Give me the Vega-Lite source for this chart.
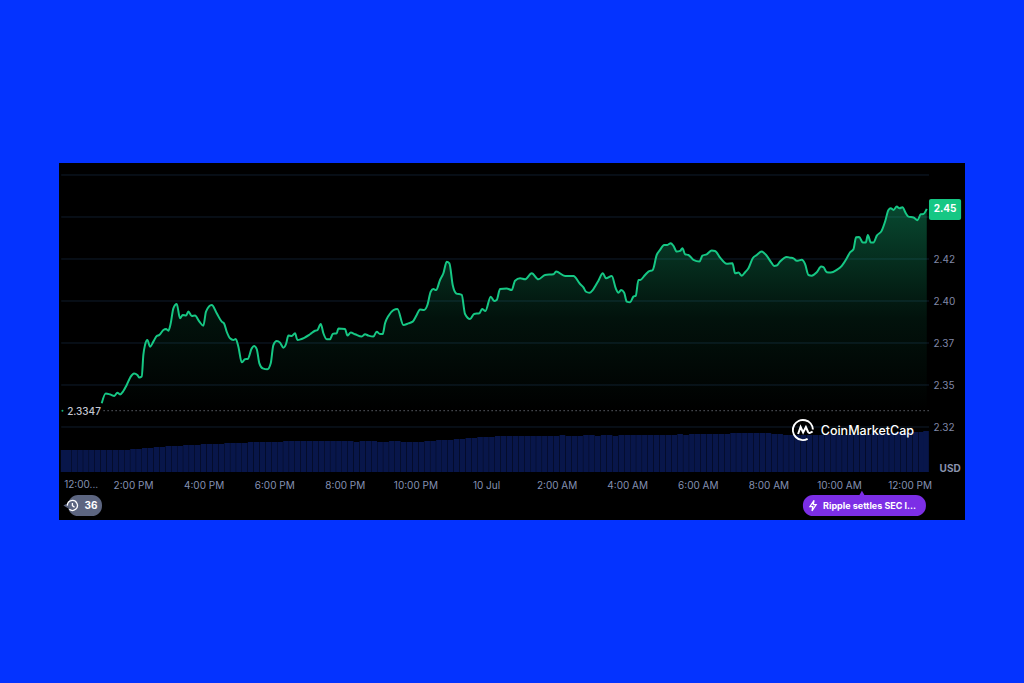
{"$schema":"https://vega.github.io/schema/vega-lite/v6.json","width":906,"height":357,"autosize":{"type":"none"},"padding":{"left":59,"right":59,"top":163,"bottom":163},"background":"#0433ff","config":{"view":{"fill":"#000000","stroke":null},"font":"Inter","scale":{"continuousPadding":0}},
"datasets":{"price":[{"minute":66.8,"price":2.3391},{"minute":73.6,"price":2.345},{"minute":80.9,"price":2.3444},{"minute":88.3,"price":2.3435},{"minute":93.4,"price":2.3454},{"minute":97.9,"price":2.3444},{"minute":103.6,"price":2.3464},{"minute":109.3,"price":2.35},{"minute":116.1,"price":2.355},{"minute":121.7,"price":2.3569},{"minute":127.4,"price":2.356},{"minute":130.8,"price":2.3544},{"minute":134.8,"price":2.355},{"minute":137.6,"price":2.3679},{"minute":140.4,"price":2.3738},{"minute":144.4,"price":2.3768},{"minute":148.9,"price":2.3728},{"minute":154.6,"price":2.3758},{"minute":160.3,"price":2.3792},{"minute":164.8,"price":2.3798},{"minute":171.6,"price":2.3827},{"minute":176.1,"price":2.3833},{"minute":180.1,"price":2.3823},{"minute":184.1,"price":2.3867},{"minute":188.6,"price":2.3956},{"minute":194.3,"price":2.3982},{"minute":199.9,"price":2.3897},{"minute":204.5,"price":2.3917},{"minute":210.1,"price":2.3913},{"minute":214.1,"price":2.3937},{"minute":219.8,"price":2.3911},{"minute":225.4,"price":2.3913},{"minute":232.8,"price":2.3877},{"minute":239.6,"price":2.3853},{"minute":244.1,"price":2.3937},{"minute":253.8,"price":2.3976},{"minute":262.3,"price":2.3927},{"minute":270.8,"price":2.3877},{"minute":274.7,"price":2.3867},{"minute":279.3,"price":2.3817},{"minute":284.9,"price":2.3778},{"minute":290.6,"price":2.3768},{"minute":294.6,"price":2.3774},{"minute":299.1,"price":2.3728},{"minute":304.8,"price":2.3635},{"minute":310.4,"price":2.3653},{"minute":315,"price":2.3655},{"minute":321.8,"price":2.3718},{"minute":325.7,"price":2.3732},{"minute":330.3,"price":2.3714},{"minute":334.8,"price":2.3629},{"minute":340.5,"price":2.3599},{"minute":348.4,"price":2.3593},{"minute":354.1,"price":2.3629},{"minute":358.6,"price":2.3738},{"minute":364.3,"price":2.3762},{"minute":369.9,"price":2.3752},{"minute":375.6,"price":2.3722},{"minute":380.1,"price":2.3744},{"minute":384.1,"price":2.3794},{"minute":389.8,"price":2.3792},{"minute":395.4,"price":2.3808},{"minute":399.4,"price":2.3768},{"minute":405.1,"price":2.3772},{"minute":420.9,"price":2.3802},{"minute":429.4,"price":2.3823},{"minute":433.4,"price":2.3827},{"minute":439.1,"price":2.3863},{"minute":443.6,"price":2.3808},{"minute":449.3,"price":2.3772},{"minute":454.9,"price":2.3772},{"minute":459.5,"price":2.3804},{"minute":466.3,"price":2.3808},{"minute":469.1,"price":2.3837},{"minute":480.4,"price":2.3833},{"minute":484.4,"price":2.3794},{"minute":490.1,"price":2.3812},{"minute":497.4,"price":2.3802},{"minute":508.7,"price":2.3788},{"minute":514.4,"price":2.3802},{"minute":520.1,"price":2.3794},{"minute":528.6,"price":2.3788},{"minute":534.2,"price":2.3817},{"minute":539.9,"price":2.3803},{"minute":544.4,"price":2.3803},{"minute":548.4,"price":2.3867},{"minute":554.1,"price":2.3911},{"minute":562.6,"price":2.3946},{"minute":569.4,"price":2.3952},{"minute":579.6,"price":2.3857},{"minute":588.1,"price":2.3867},{"minute":595.4,"price":2.3877},{"minute":602.2,"price":2.3917},{"minute":607.9,"price":2.395},{"minute":614.7,"price":2.3946},{"minute":620.4,"price":2.3976},{"minute":626,"price":2.4055},{"minute":630.6,"price":2.4071},{"minute":635.1,"price":2.4065},{"minute":641.9,"price":2.4125},{"minute":647.6,"price":2.4165},{"minute":653.2,"price":2.4234},{"minute":657.8,"price":2.4224},{"minute":663.4,"price":2.4095},{"minute":669.1,"price":2.4046},{"minute":678.7,"price":2.4036},{"minute":684.4,"price":2.3923},{"minute":692.9,"price":2.3893},{"minute":699.7,"price":2.3923},{"minute":708.8,"price":2.3927},{"minute":713.3,"price":2.3952},{"minute":719,"price":2.394},{"minute":728,"price":2.4026},{"minute":733.7,"price":2.4},{"minute":738.2,"price":2.4006},{"minute":743.9,"price":2.4071},{"minute":755.2,"price":2.4075},{"minute":763.7,"price":2.4065},{"minute":769.4,"price":2.4121},{"minute":777.9,"price":2.4135},{"minute":786.4,"price":2.4129},{"minute":797.7,"price":2.4165},{"minute":809.1,"price":2.4129},{"minute":820.4,"price":2.4155},{"minute":834.6,"price":2.4159},{"minute":839.1,"price":2.4175},{"minute":854.4,"price":2.4149},{"minute":868.6,"price":2.4149},{"minute":879.9,"price":2.4101},{"minute":885.6,"price":2.4081},{"minute":890.1,"price":2.4055},{"minute":895.8,"price":2.4049},{"minute":901.4,"price":2.4065},{"minute":911.1,"price":2.4121},{"minute":918.5,"price":2.4165},{"minute":924.1,"price":2.4135},{"minute":933.8,"price":2.4149},{"minute":940.6,"price":2.4075},{"minute":945.1,"price":2.4049},{"minute":949.6,"price":2.4065},{"minute":954.7,"price":2.4051},{"minute":959.3,"price":2.3996},{"minute":964.9,"price":2.3992},{"minute":970.6,"price":2.4026},{"minute":974.6,"price":2.4032},{"minute":979.1,"price":2.4125},{"minute":981.9,"price":2.4125},{"minute":990.4,"price":2.4155},{"minute":996.1,"price":2.4175},{"minute":1003.4,"price":2.4185},{"minute":1010.2,"price":2.4274},{"minute":1015.9,"price":2.4304},{"minute":1022.7,"price":2.4334},{"minute":1028.4,"price":2.4334},{"minute":1034,"price":2.4344},{"minute":1038.6,"price":2.4328},{"minute":1044.2,"price":2.4294},{"minute":1049.9,"price":2.4298},{"minute":1053.9,"price":2.4314},{"minute":1058.4,"price":2.4278},{"minute":1064.1,"price":2.4274},{"minute":1072.6,"price":2.4245},{"minute":1082.8,"price":2.4235},{"minute":1087.9,"price":2.427},{"minute":1095.2,"price":2.4278},{"minute":1103.7,"price":2.43},{"minute":1109.4,"price":2.4298},{"minute":1117.9,"price":2.4258},{"minute":1129.2,"price":2.4221},{"minute":1138.9,"price":2.4225},{"minute":1143.4,"price":2.4165},{"minute":1149.1,"price":2.4169},{"minute":1154.7,"price":2.4151},{"minute":1160.4,"price":2.4171},{"minute":1166.1,"price":2.4195},{"minute":1173.4,"price":2.4254},{"minute":1180.2,"price":2.4274},{"minute":1188.7,"price":2.4294},{"minute":1196.1,"price":2.4274},{"minute":1205.7,"price":2.4225},{"minute":1209.7,"price":2.4209},{"minute":1214.2,"price":2.4211},{"minute":1219.9,"price":2.4235},{"minute":1231.2,"price":2.4262},{"minute":1236.9,"price":2.4258},{"minute":1242.6,"price":2.4254},{"minute":1248.2,"price":2.4239},{"minute":1256.7,"price":2.4245},{"minute":1262.4,"price":2.4219},{"minute":1268.1,"price":2.4155},{"minute":1273.7,"price":2.4151},{"minute":1282.2,"price":2.4171},{"minute":1289.6,"price":2.4205},{"minute":1293.6,"price":2.4201},{"minute":1299.3,"price":2.4171},{"minute":1306.1,"price":2.4169},{"minute":1316.3,"price":2.4185},{"minute":1324.8,"price":2.4209},{"minute":1333.2,"price":2.4254},{"minute":1338.9,"price":2.429},{"minute":1344.6,"price":2.4308},{"minute":1349.1,"price":2.4379},{"minute":1354.2,"price":2.4381},{"minute":1360.5,"price":2.4348},{"minute":1365.6,"price":2.4348},{"minute":1369,"price":2.4393},{"minute":1374.1,"price":2.4348},{"minute":1378.6,"price":2.4348},{"minute":1384.3,"price":2.4389},{"minute":1392.7,"price":2.4419},{"minute":1398.4,"price":2.4473},{"minute":1404.1,"price":2.4542},{"minute":1408,"price":2.4552},{"minute":1412.6,"price":2.4542},{"minute":1418.2,"price":2.4562},{"minute":1422.8,"price":2.4552},{"minute":1427.9,"price":2.4558},{"minute":1433.6,"price":2.4522},{"minute":1438.1,"price":2.4502},{"minute":1446.6,"price":2.4497},{"minute":1453.4,"price":2.4481},{"minute":1459,"price":2.4516},{"minute":1463.6,"price":2.4518},{"minute":1469.2,"price":2.4548}],
"volume":[{"minute":2,"vol":2.2},{"minute":10,"vol":2.2},{"minute":20,"vol":2.2},{"minute":30,"vol":2.2},{"minute":40,"vol":2.2},{"minute":50,"vol":2.2},{"minute":60,"vol":2.2},{"minute":70,"vol":2.2},{"minute":80,"vol":2.2},{"minute":90,"vol":2.2},{"minute":100,"vol":2.2},{"minute":110,"vol":2.2},{"minute":120,"vol":2.3},{"minute":130,"vol":2.3},{"minute":140,"vol":2.4},{"minute":150,"vol":2.4},{"minute":160,"vol":2.5},{"minute":170,"vol":2.5},{"minute":180,"vol":2.6},{"minute":190,"vol":2.6},{"minute":200,"vol":2.6},{"minute":210,"vol":2.7},{"minute":220,"vol":2.7},{"minute":230,"vol":2.7},{"minute":240,"vol":2.8},{"minute":250,"vol":2.8},{"minute":260,"vol":2.8},{"minute":270,"vol":2.8},{"minute":280,"vol":2.9},{"minute":290,"vol":2.9},{"minute":300,"vol":2.9},{"minute":310,"vol":2.9},{"minute":320,"vol":3.0},{"minute":330,"vol":3.0},{"minute":340,"vol":3.0},{"minute":350,"vol":3.0},{"minute":360,"vol":3.0},{"minute":370,"vol":3.0},{"minute":380,"vol":3.1},{"minute":390,"vol":3.1},{"minute":400,"vol":3.1},{"minute":410,"vol":3.1},{"minute":420,"vol":3.1},{"minute":430,"vol":3.1},{"minute":440,"vol":3.1},{"minute":450,"vol":3.1},{"minute":460,"vol":3.1},{"minute":470,"vol":3.1},{"minute":480,"vol":3.1},{"minute":490,"vol":3.1},{"minute":500,"vol":3.0},{"minute":510,"vol":3.1},{"minute":520,"vol":3.1},{"minute":530,"vol":3.1},{"minute":540,"vol":3.0},{"minute":550,"vol":3.0},{"minute":560,"vol":3.1},{"minute":570,"vol":3.1},{"minute":580,"vol":3.0},{"minute":590,"vol":3.0},{"minute":600,"vol":3.0},{"minute":610,"vol":3.0},{"minute":620,"vol":3.1},{"minute":630,"vol":3.1},{"minute":640,"vol":3.2},{"minute":650,"vol":3.2},{"minute":660,"vol":3.2},{"minute":670,"vol":3.3},{"minute":680,"vol":3.3},{"minute":690,"vol":3.4},{"minute":700,"vol":3.4},{"minute":710,"vol":3.5},{"minute":720,"vol":3.5},{"minute":730,"vol":3.5},{"minute":740,"vol":3.6},{"minute":750,"vol":3.6},{"minute":760,"vol":3.6},{"minute":770,"vol":3.6},{"minute":780,"vol":3.6},{"minute":790,"vol":3.6},{"minute":800,"vol":3.6},{"minute":810,"vol":3.6},{"minute":820,"vol":3.6},{"minute":830,"vol":3.6},{"minute":840,"vol":3.6},{"minute":850,"vol":3.7},{"minute":860,"vol":3.6},{"minute":870,"vol":3.6},{"minute":880,"vol":3.6},{"minute":890,"vol":3.7},{"minute":900,"vol":3.7},{"minute":910,"vol":3.6},{"minute":920,"vol":3.7},{"minute":930,"vol":3.7},{"minute":940,"vol":3.6},{"minute":950,"vol":3.7},{"minute":960,"vol":3.7},{"minute":970,"vol":3.7},{"minute":980,"vol":3.7},{"minute":990,"vol":3.7},{"minute":1000,"vol":3.7},{"minute":1010,"vol":3.7},{"minute":1020,"vol":3.7},{"minute":1030,"vol":3.7},{"minute":1040,"vol":3.7},{"minute":1050,"vol":3.8},{"minute":1060,"vol":3.7},{"minute":1070,"vol":3.8},{"minute":1080,"vol":3.8},{"minute":1090,"vol":3.8},{"minute":1100,"vol":3.8},{"minute":1110,"vol":3.8},{"minute":1120,"vol":3.8},{"minute":1130,"vol":3.8},{"minute":1140,"vol":3.9},{"minute":1150,"vol":3.9},{"minute":1160,"vol":3.9},{"minute":1170,"vol":3.9},{"minute":1180,"vol":3.9},{"minute":1190,"vol":3.9},{"minute":1200,"vol":3.9},{"minute":1210,"vol":3.8},{"minute":1220,"vol":3.8},{"minute":1230,"vol":3.7},{"minute":1240,"vol":3.7},{"minute":1250,"vol":3.7},{"minute":1260,"vol":3.7},{"minute":1270,"vol":3.7},{"minute":1280,"vol":3.7},{"minute":1290,"vol":3.7},{"minute":1300,"vol":3.8},{"minute":1310,"vol":3.8},{"minute":1320,"vol":3.8},{"minute":1330,"vol":3.7},{"minute":1340,"vol":3.8},{"minute":1350,"vol":3.8},{"minute":1360,"vol":3.8},{"minute":1370,"vol":3.8},{"minute":1380,"vol":3.9},{"minute":1390,"vol":3.9},{"minute":1400,"vol":3.9},{"minute":1410,"vol":3.9},{"minute":1420,"vol":4.0},{"minute":1430,"vol":3.9},{"minute":1440,"vol":4.0},{"minute":1450,"vol":4.0},{"minute":1460,"vol":4.0},{"minute":1468,"vol":4.1}],
"grid":[{"level":2.35},{"level":2.375},{"level":2.4},{"level":2.425},{"level":2.45},{"level":2.475},{"level":2.325}]},
"layer":[
{"data":{"name":"volume"},"mark":{"type":"bar","size":5.6,"color":"#08164a"},"encoding":{"x":{"field":"minute","type":"quantitative","title":null,"scale":{"domain":[-5.8,1534.2],"nice":false,"zero":false,"padding":0},"axis":{"values":[120,240,360,480,600,720,840,960,1080,1200,1320,1440],"labelExpr":"{'120':'2:00 PM','240':'4:00 PM','360':'6:00 PM','480':'8:00 PM','600':'10:00 PM','720':'10 Jul','840':'2:00 AM','960':'4:00 AM','1080':'6:00 AM','1200':'8:00 AM','1320':'10:00 AM','1440':'12:00 PM'}[''+datum.value]","domain":false,"ticks":false,"tickSize":0,"grid":false,"offset":-35,"labelPadding":0,"labelBaseline":"middle","labelColor":"#8491b3","labelFontSize":10,"labelFont":"Inter","labelOverlap":false,"labelFlush":false}},"y":{"field":"vol","type":"quantitative","title":null,"scale":{"domain":[-4.8,30.9],"nice":false,"zero":false,"padding":0},"axis":null},"y2":{"datum":0}}},
{"layer":[
{"data":{"name":"grid"},"mark":{"type":"rule","color":"#0f1c2c","strokeWidth":1},"encoding":{"y":{"field":"level","type":"quantitative","title":null,"scale":{"domain":[2.26964,2.48214],"nice":false,"zero":false},"axis":{"values":[2.325,2.35,2.375,2.4,2.425],"labelExpr":"format(floor(datum.value*100+0.001)/100,'.2f')","orient":"right","offset":-37,"domain":false,"ticks":false,"tickSize":0,"grid":false,"labelPadding":5,"labelOffset":1,"labelColor":"#8088a8","labelFontSize":10,"labelFont":"Inter","labelOverlap":false,"labelFlush":false}},"x":{"datum":-2,"type":"quantitative","scale":{"domain":[-5.8,1534.2],"nice":false,"zero":false},"axis":null},"x2":{"datum":1473}}},
{"data":{"name":"price"},"mark":{"type":"area","interpolate":"monotone","color":{"gradient":"linear","x1":0,"y1":0,"x2":0,"y2":1,"stops":[{"offset":0,"color":"rgba(22,199,132,0.36)"},{"offset":0.55,"color":"rgba(22,199,132,0.09)"},{"offset":1,"color":"rgba(22,199,132,0)"}]}},"encoding":{"x":{"field":"minute","type":"quantitative","scale":{"domain":[-5.8,1534.2],"nice":false,"zero":false},"axis":null},"y":{"field":"price","type":"quantitative","scale":{"domain":[2.26964,2.48214],"nice":false,"zero":false},"axis":null},"y2":{"datum":2.3347}}},
{"data":{"values":[{"base":2.3347}]},"mark":{"type":"rule","color":"#8a8f9c","strokeWidth":1,"strokeDash":[1,3]},"encoding":{"y":{"field":"base","type":"quantitative","scale":{"domain":[2.26964,2.48214],"nice":false,"zero":false},"axis":null},"x":{"datum":70,"type":"quantitative","scale":{"domain":[-5.8,1534.2],"nice":false,"zero":false},"axis":null},"x2":{"datum":1473}}},
{"data":{"name":"price"},"mark":{"type":"line","interpolate":"monotone","color":"#16c784","strokeWidth":2,"strokeJoin":"round"},"encoding":{"x":{"field":"minute","type":"quantitative","scale":{"domain":[-5.8,1534.2],"nice":false,"zero":false},"axis":null},"y":{"field":"price","type":"quantitative","scale":{"domain":[2.26964,2.48214],"nice":false,"zero":false},"axis":null}}},
{"data":{"values":[{"label":"2.3347"}]},"mark":{"type":"text","color":"#c4c7d2","fontSize":10,"fontWeight":500,"font":"Inter","align":"center","baseline":"middle","dy":1},"encoding":{"text":{"field":"label"},"x":{"datum":36.7,"type":"quantitative","scale":{"domain":[-5.8,1534.2],"nice":false,"zero":false},"axis":null},"y":{"datum":2.3347,"type":"quantitative","scale":{"domain":[2.26964,2.48214],"nice":false,"zero":false},"axis":null}}},
{"data":{"values":[{"label":"start"}]},"mark":{"type":"point","filled":true,"color":"#16c784","size":4,"opacity":0.9},"encoding":{"x":{"datum":0,"type":"quantitative","scale":{"domain":[-5.8,1534.2],"nice":false,"zero":false},"axis":null},"y":{"datum":2.3347,"type":"quantitative","scale":{"domain":[2.26964,2.48214],"nice":false,"zero":false},"axis":null}}},
{"data":{"values":[{"label":"tag"}]},"mark":{"type":"rect","color":"#16c784","cornerRadius":2},"encoding":{"x":{"datum":1473,"type":"quantitative","scale":{"domain":[-5.8,1534.2],"nice":false,"zero":false},"axis":null},"x2":{"datum":1527.6},"y":{"datum":2.4607,"type":"quantitative","scale":{"domain":[2.26964,2.48214],"nice":false,"zero":false},"axis":null},"y2":{"datum":2.4482}}},
{"data":{"values":[{"label":"2.45"}]},"mark":{"type":"text","color":"#ffffff","fontSize":10,"fontWeight":700,"font":"Inter","align":"center","baseline":"middle"},"encoding":{"text":{"field":"label"},"x":{"datum":1500.3,"type":"quantitative","scale":{"domain":[-5.8,1534.2],"nice":false,"zero":false},"axis":null},"y":{"datum":2.4545,"type":"quantitative","scale":{"domain":[2.26964,2.48214],"nice":false,"zero":false},"axis":null}}},
{"data":{"values":[{"label":"USD"}]},"mark":{"type":"text","color":"#8a93ad","fontSize":10,"fontWeight":700,"font":"Inter","align":"center","baseline":"middle"},"encoding":{"text":{"field":"label"},"x":{"datum":1508.9,"type":"quantitative","scale":{"domain":[-5.8,1534.2],"nice":false,"zero":false},"axis":null},"y":{"datum":2.3,"type":"quantitative","scale":{"domain":[2.26964,2.48214],"nice":false,"zero":false},"axis":null}}},
{"data":{"values":[{"label":"12:00..."}]},"mark":{"type":"text","color":"#8491b3","fontSize":10,"font":"Inter","align":"left","baseline":"middle"},"encoding":{"text":{"field":"label"},"x":{"datum":3,"type":"quantitative","scale":{"domain":[-5.8,1534.2],"nice":false,"zero":false},"axis":null},"y":{"datum":2.2905,"type":"quantitative","scale":{"domain":[2.26964,2.48214],"nice":false,"zero":false},"axis":null}}},
{"data":{"values":[{"label":"CoinMarketCap"}]},"mark":{"type":"text","color":"#ffffff","fontSize":12.5,"fontWeight":500,"font":"Inter","align":"left","baseline":"middle"},"encoding":{"text":{"field":"label"},"x":{"datum":1289,"type":"quantitative","scale":{"domain":[-5.8,1534.2],"nice":false,"zero":false},"axis":null},"y":{"datum":2.3226,"type":"quantitative","scale":{"domain":[2.26964,2.48214],"nice":false,"zero":false},"axis":null}}},
{"data":{"values":[{"label":"logo"}]},"mark":{"type":"point","filled":false,"color":"#ffffff","strokeWidth":2,"opacity":1,"size":400,"shape":"M0.98,-0.05 A1,1 0 1 0 0.45,0.88 M-0.5,0.4 L-0.25,-0.3 L0,0.25 L0.28,-0.3 L0.5,0.2 Q0.6,0.4 0.95,0.15"},"encoding":{"x":{"datum":1259,"type":"quantitative","scale":{"domain":[-5.8,1534.2],"nice":false,"zero":false},"axis":null},"y":{"datum":2.3232,"type":"quantitative","scale":{"domain":[2.26964,2.48214],"nice":false,"zero":false},"axis":null}}},
{"data":{"values":[{"label":"pill"}]},"mark":{"type":"rect","color":"#7c2ee6","cornerRadius":10},"encoding":{"x":{"datum":1258.7,"type":"quantitative","scale":{"domain":[-5.8,1534.2],"nice":false,"zero":false},"axis":null},"x2":{"datum":1467.8},"y":{"datum":2.2845,"type":"quantitative","scale":{"domain":[2.26964,2.48214],"nice":false,"zero":false},"axis":null},"y2":{"datum":2.272}}},
{"data":{"values":[{"label":"arrow"}]},"mark":{"type":"point","filled":true,"color":"#7c2ee6","shape":"triangle-up","size":30,"opacity":1},"encoding":{"x":{"datum":1359,"type":"quantitative","scale":{"domain":[-5.8,1534.2],"nice":false,"zero":false},"axis":null},"y":{"datum":2.2857,"type":"quantitative","scale":{"domain":[2.26964,2.48214],"nice":false,"zero":false},"axis":null}}},
{"data":{"values":[{"label":"bolt"}]},"mark":{"type":"point","filled":false,"color":"#ffffff","strokeWidth":1.2,"opacity":1,"size":110,"shape":"M0.2,-1 L-0.6,0.2 L-0.05,0.2 L-0.2,1 L0.6,-0.2 L0.05,-0.2 Z"},"encoding":{"x":{"datum":1275.9,"type":"quantitative","scale":{"domain":[-5.8,1534.2],"nice":false,"zero":false},"axis":null},"y":{"datum":2.2782,"type":"quantitative","scale":{"domain":[2.26964,2.48214],"nice":false,"zero":false},"axis":null}}},
{"data":{"values":[{"label":"Ripple settles SEC l..."}]},"mark":{"type":"text","color":"#ffffff","fontSize":9,"fontWeight":700,"font":"Inter","align":"left","baseline":"middle"},"encoding":{"text":{"field":"label"},"x":{"datum":1293,"type":"quantitative","scale":{"domain":[-5.8,1534.2],"nice":false,"zero":false},"axis":null},"y":{"datum":2.2782,"type":"quantitative","scale":{"domain":[2.26964,2.48214],"nice":false,"zero":false},"axis":null}}},
{"data":{"values":[{"label":"pill2"}]},"mark":{"type":"rect","color":"#5c6580","cornerRadius":10},"encoding":{"x":{"datum":9.5,"type":"quantitative","scale":{"domain":[-5.8,1534.2],"nice":false,"zero":false},"axis":null},"x2":{"datum":67.3},"y":{"datum":2.2845,"type":"quantitative","scale":{"domain":[2.26964,2.48214],"nice":false,"zero":false},"axis":null},"y2":{"datum":2.272}}},
{"data":{"values":[{"label":"arrow2"}]},"mark":{"type":"point","filled":true,"color":"#5c6580","shape":"triangle-left","size":35,"opacity":1},"encoding":{"x":{"datum":6,"type":"quantitative","scale":{"domain":[-5.8,1534.2],"nice":false,"zero":false},"axis":null},"y":{"datum":2.2782,"type":"quantitative","scale":{"domain":[2.26964,2.48214],"nice":false,"zero":false},"axis":null}}},
{"data":{"values":[{"label":"clock"}]},"mark":{"type":"point","filled":false,"color":"#ffffff","strokeWidth":1.3,"opacity":1,"size":110,"shape":"M-0.95,0 A0.95,0.95 0 1 1 -0.6,0.7 M0,-0.5 L0,0 L0.4,0.3"},"encoding":{"x":{"datum":17,"type":"quantitative","scale":{"domain":[-5.8,1534.2],"nice":false,"zero":false},"axis":null},"y":{"datum":2.2782,"type":"quantitative","scale":{"domain":[2.26964,2.48214],"nice":false,"zero":false},"axis":null}}},
{"data":{"values":[{"label":"36"}]},"mark":{"type":"text","color":"#ffffff","fontSize":10,"fontWeight":700,"font":"Inter","align":"center","baseline":"middle"},"encoding":{"text":{"field":"label"},"x":{"datum":48.6,"type":"quantitative","scale":{"domain":[-5.8,1534.2],"nice":false,"zero":false},"axis":null},"y":{"datum":2.2782,"type":"quantitative","scale":{"domain":[2.26964,2.48214],"nice":false,"zero":false},"axis":null}}}
],"resolve":{"axis":{"x":"independent","y":"independent"}}}
],"resolve":{"scale":{"y":"independent"},"axis":{"x":"independent","y":"independent"}}}
